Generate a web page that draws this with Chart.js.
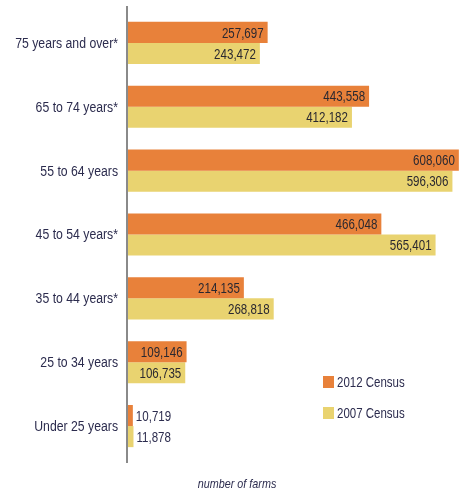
<!DOCTYPE html>
<html>
<head>
<meta charset="utf-8">
<script src="https://cdn.jsdelivr.net/npm/chart.js@4/dist/chart.umd.min.js"></script>
<style>
  html, body { margin: 0; padding: 0; background: #ffffff; }
  #wrap { position: relative; width: 461px; height: 492px; }
</style>
</head>
<body>
<div id="wrap"><canvas id="c" width="461" height="492"></canvas></div>
<script>
// Farm operators by age group, number of farms
const ageGroups = [
  '75 years and over*',
  '65 to 74 years*',
  '55 to 64 years',
  '45 to 54 years*',
  '35 to 44 years*',
  '25 to 34 years',
  'Under 25 years'
];
const census2012 = [257697, 443558, 608060, 466048, 214135, 109146, 10719];
const census2007 = [243472, 412182, 596306, 565401, 268818, 106735, 11878];
const seriesNames = ['2012 Census', '2007 Census'];
const axisTitle = 'number of farms';

const FONT = "'Liberation Sans', Arial, sans-serif";
const TEXT = '#2c2c4e';
const VALUE_TEXT = '#2a2830';
const ORANGE = '#e8813a';
const YELLOW = '#e9d370';

const fmt = v => v.toLocaleString('en-US');

// Condensed text: a regular face squeezed horizontally
function narrowText(ctx, txt, x, y, opt) {
  const sx = opt.sx;
  ctx.save();
  ctx.font = (opt.italic ? 'italic ' : '') + opt.size + 'px ' + FONT;
  ctx.fillStyle = opt.color;
  ctx.textBaseline = 'middle';
  ctx.textAlign = opt.align;
  ctx.translate(x, y);
  ctx.scale(sx, 1);
  ctx.fillText(txt, 0, 0);
  ctx.restore();
}
function narrowWidth(ctx, txt, size, sx) {
  ctx.save();
  ctx.font = size + 'px ' + FONT;
  const w = ctx.measureText(txt).width * sx;
  ctx.restore();
  return w;
}

// Category names left of the axis
const categoryLabels = {
  id: 'categoryLabels',
  afterDraw(chart) {
    const ctx = chart.ctx;
    const yScale = chart.scales.y;
    chart.data.labels.forEach((lab, i) => {
      narrowText(ctx, lab, chart.chartArea.left - 9, yScale.getPixelForTick(i) + 1,
        { size: 14, sx: 0.875, color: TEXT, align: 'right' });
    });
  }
};

// Value labels at the end of each bar (inside when they fit, else just outside)
const valueLabels = {
  id: 'valueLabels',
  afterDatasetsDraw(chart) {
    const ctx = chart.ctx;
    chart.data.datasets.forEach((ds, di) => {
      chart.getDatasetMeta(di).data.forEach((bar, i) => {
        const txt = fmt(ds.data[i]);
        const w = narrowWidth(ctx, txt, 15, 0.77);
        const len = bar.x - bar.base;
        if (len > w + 8) {
          narrowText(ctx, txt, bar.x - 4, bar.y + 1, { size: 15, sx: 0.77, color: VALUE_TEXT, align: 'right' });
        } else {
          narrowText(ctx, txt, bar.x + 3, bar.y + 1, { size: 15, sx: 0.77, color: TEXT, align: 'left' });
        }
      });
    });
  }
};

// Vertical axis rule, legend block and axis caption
const decorations = {
  id: 'decorations',
  afterDraw(chart, args, opts) {
    const ctx = chart.ctx;
    const a = chart.chartArea;
    ctx.save();
    ctx.strokeStyle = '#8a8a8a';
    ctx.lineWidth = 2;
    ctx.beginPath();
    ctx.moveTo(a.left, a.top - 5);
    ctx.lineTo(a.left, a.bottom + 5);
    ctx.stroke();
    ctx.restore();

    chart.data.datasets.forEach((ds, i) => {
      const y = opts.legendY + i * opts.legendGap;
      ctx.fillStyle = ds.backgroundColor;
      ctx.fillRect(opts.legendX, y - 6, 11, 12);
      narrowText(ctx, ds.label, opts.legendX + 14, y + 1, { size: 14, sx: 0.82, color: TEXT, align: 'left' });
    });

    narrowText(ctx, axisTitle, opts.titleX, opts.titleY, { size: 13, sx: 0.83, color: TEXT, align: 'center', italic: true });
  }
};

new Chart(document.getElementById('c'), {
  type: 'bar',
  data: {
    labels: ageGroups,
    datasets: [
      { label: seriesNames[0], data: census2012, backgroundColor: ORANGE },
      { label: seriesNames[1], data: census2007, backgroundColor: YELLOW }
    ]
  },
  options: {
    indexAxis: 'y',
    responsive: false,
    animation: false,
    devicePixelRatio: 1,
    categoryPercentage: 0.66,
    barPercentage: 1,
    layout: { padding: { top: 11, bottom: 34, left: 0, right: 0 } },
    scales: {
      x: {
        display: false,
        min: 0,
        max: 612000
      },
      y: {
        grid: { display: false },
        border: { display: false },
        ticks: { display: false },
        afterFit(scale) { scale.width = 127; }
      }
    },
    plugins: {
      legend: { display: false },
      tooltip: { enabled: false },
      decorations: { legendX: 323, legendY: 382, legendGap: 31, titleX: 237, titleY: 484 }
    }
  },
  plugins: [valueLabels, categoryLabels, decorations]
});
</script>
</body>
</html>
